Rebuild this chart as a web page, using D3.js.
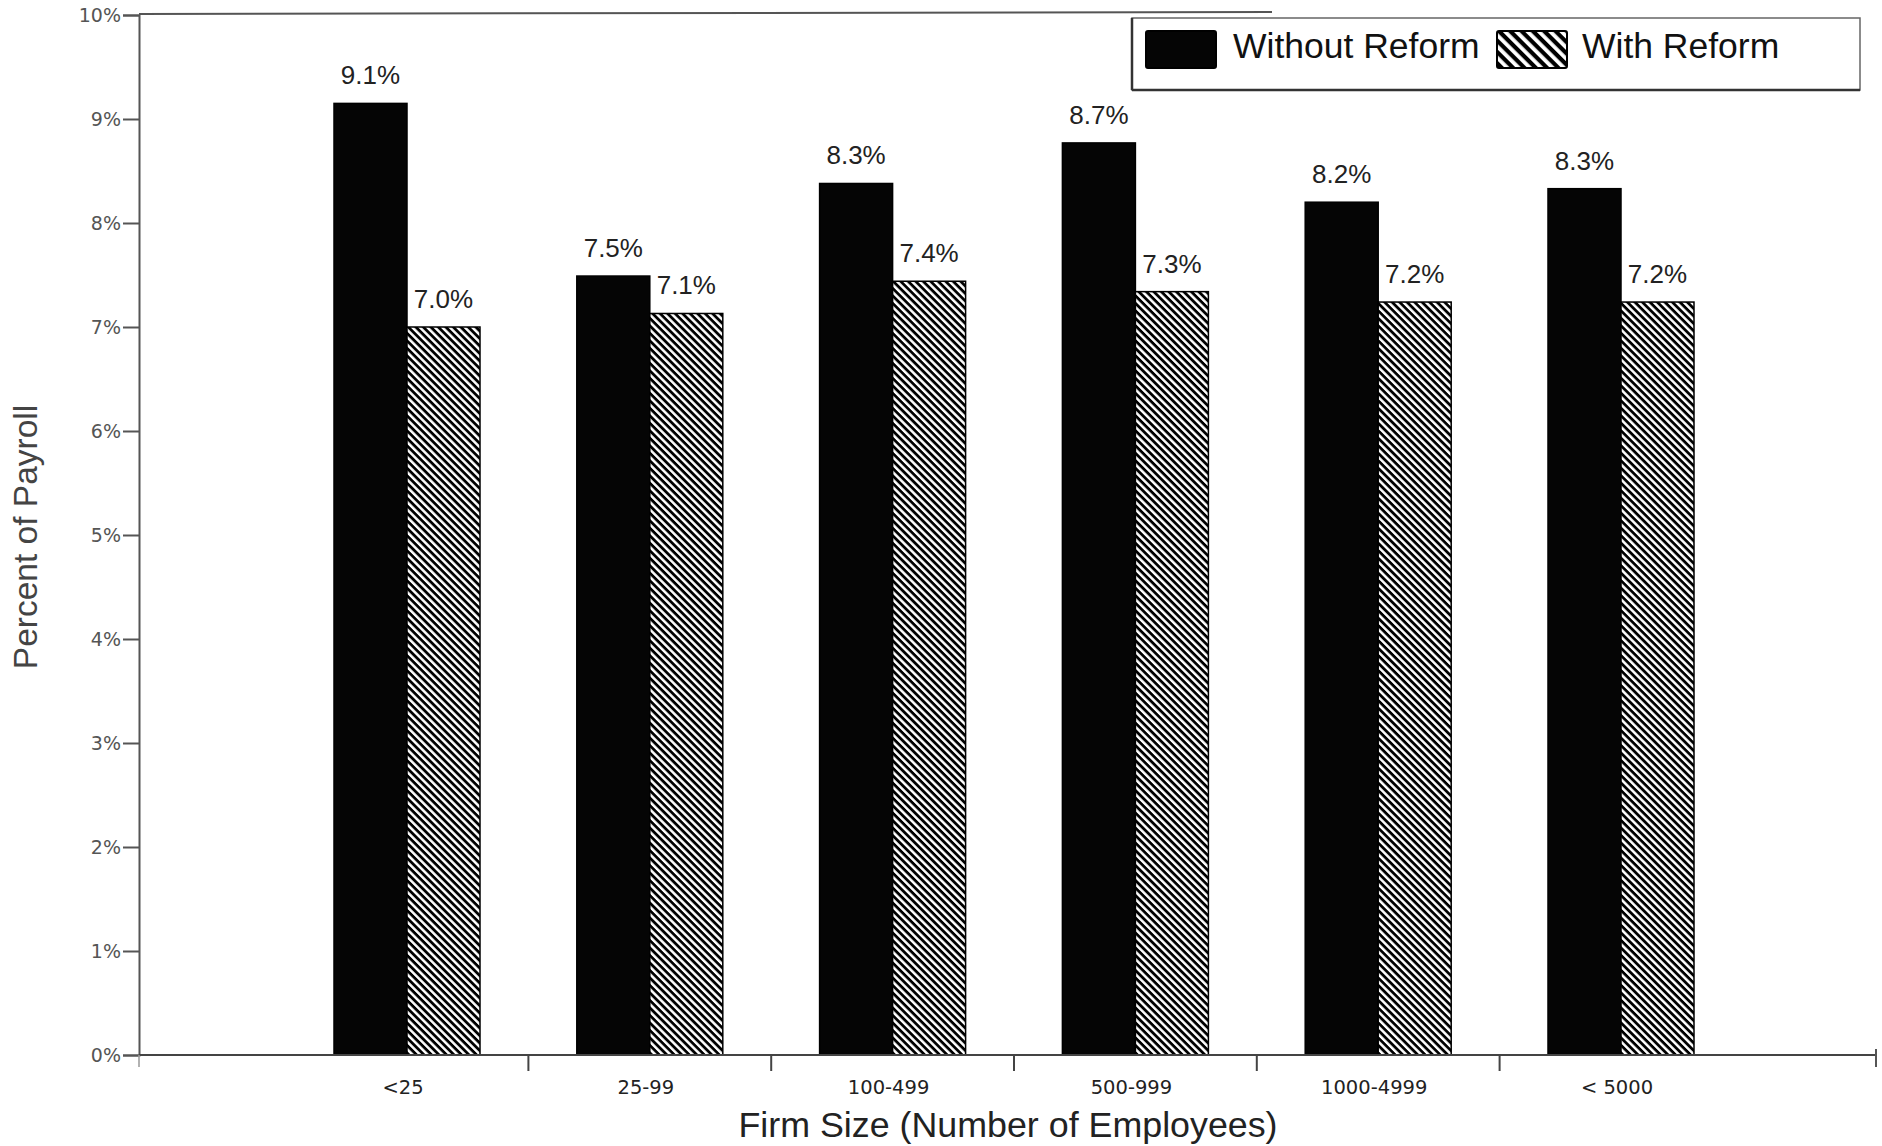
<!DOCTYPE html>
<html>
<head>
<meta charset="utf-8">
<script src="https://cdn.jsdelivr.net/npm/d3@7"></script>
<style>
  html, body { margin: 0; padding: 0; background: #fff; }
  svg { display: block; }
</style>
</head>
<body>
<svg id="chart" width="1882" height="1146"></svg>
<script>
// ---- Data ----
const categories = ["<25", "25-99", "100-499", "500-999", "1000-4999", "< 5000"];
const seriesNames = ["Without Reform", "With Reform"];
const withoutReform = [9.15, 7.49, 8.38, 8.77, 8.20, 8.33];
const withReform = [7.00, 7.13, 7.44, 7.34, 7.24, 7.24];
const withoutLabels = ["9.1%", "7.5%", "8.3%", "8.7%", "8.2%", "8.3%"];
const withLabels = ["7.0%", "7.1%", "7.4%", "7.3%", "7.2%", "7.2%"];
const yTicks = [0, 1, 2, 3, 4, 5, 6, 7, 8, 9, 10];
const yTickLabels = ["0%", "1%", "2%", "3%", "4%", "5%", "6%", "7%", "8%", "9%", "10%"];
const xTitle = "Firm Size (Number of Employees)";
const yTitle = "Percent of Payroll";

const rows = categories.map((c, i) => ({
  cat: c,
  vals: [
    { s: seriesNames[0], v: withoutReform[i], label: withoutLabels[i] },
    { s: seriesNames[1], v: withReform[i], label: withLabels[i] }
  ]
}));

// ---- Layout ----
const svg = d3.select("#chart");
const axisX = 139, baseY = 1055, topY = 15, rightX = 1876;

const y = d3.scaleLinear().domain([0, 10]).range([baseY, topY]);
const x = d3.scaleBand().domain(categories).range([285.6, 1742.4]).padding(0);
const bw = x.bandwidth();
const barW = 73;
const x1 = d3.scaleBand().domain(seriesNames).range([bw / 2 - barW, bw / 2 + barW]).padding(0);

// patterns
const defs = svg.append("defs");
const pat = defs.append("pattern")
  .attr("id", "hatch").attr("patternUnits", "userSpaceOnUse")
  .attr("width", 10).attr("height", 5.3)
  .attr("patternTransform", "rotate(45)");
pat.append("rect").attr("width", 10).attr("height", 5.3).attr("fill", "#fff");
pat.append("rect").attr("width", 10).attr("height", 2.8).attr("fill", "#000");

const pat2 = defs.append("pattern")
  .attr("id", "hatchLegend").attr("patternUnits", "userSpaceOnUse")
  .attr("width", 14).attr("height", 8)
  .attr("patternTransform", "rotate(45)");
pat2.append("rect").attr("width", 14).attr("height", 8).attr("fill", "#fff");
pat2.append("rect").attr("width", 14).attr("height", 4.2).attr("fill", "#000");

const color = d3.scaleOrdinal().domain(seriesNames).range(["#050505", "url(#hatch)"]);

// ---- Frame lines ----
svg.append("line").attr("x1", axisX).attr("x2", 1272).attr("y1", 14).attr("y2", 12)
  .attr("stroke", "#555").attr("stroke-width", 2);

// ---- Y axis ----
const yAxis = d3.axisLeft(y).tickValues(yTicks).tickSize(16).tickPadding(2)
  .tickFormat((d, i) => yTickLabels[i]);
const gy = svg.append("g").attr("transform", `translate(${axisX},0)`).call(yAxis);
gy.select(".domain").attr("stroke", "#555").attr("stroke-width", 2);
gy.selectAll(".tick line").attr("stroke", "#555").attr("stroke-width", 2);
gy.selectAll(".tick text")
  .attr("font-family", "'DejaVu Sans', sans-serif").attr("font-size", 19)
  .attr("fill", "#555");

// ---- Bars ----
const groups = svg.append("g").selectAll("g").data(rows).join("g")
  .attr("transform", d => `translate(${x(d.cat)},0)`);

groups.selectAll("rect").data(d => d.vals).join("rect")
  .attr("x", d => x1(d.s))
  .attr("y", d => y(d.v))
  .attr("width", x1.bandwidth())
  .attr("height", d => y(0) - y(d.v))
  .attr("fill", d => color(d.s))
  .attr("stroke", "#000")
  .attr("stroke-width", 1.5);

groups.selectAll("text.val").data(d => d.vals).join("text")
  .attr("class", "val")
  .attr("x", d => x1(d.s) + x1.bandwidth() / 2)
  .attr("y", d => y(d.v) - 19)
  .attr("text-anchor", "middle")
  .attr("font-family", "'Liberation Sans', Arial, sans-serif")
  .attr("font-size", 26)
  .attr("fill", "#222")
  .text(d => d.label);

// ---- X axis ----
svg.append("line").attr("x1", axisX).attr("x2", rightX).attr("y1", baseY).attr("y2", baseY)
  .attr("stroke", "#444").attr("stroke-width", 2);
const boundaries = categories.slice(0, -1).map(c => x(c) + bw);
svg.append("g").selectAll("line").data(boundaries).join("line")
  .attr("x1", d => d).attr("x2", d => d)
  .attr("y1", baseY).attr("y2", baseY + 16)
  .attr("stroke", "#444").attr("stroke-width", 2);
svg.append("line").attr("x1", rightX).attr("x2", rightX).attr("y1", baseY - 6).attr("y2", baseY + 12)
  .attr("stroke", "#555").attr("stroke-width", 2);
svg.append("line").attr("x1", axisX).attr("x2", axisX).attr("y1", baseY).attr("y2", baseY + 12)
  .attr("stroke", "#999").attr("stroke-width", 1.5);

const xAxis = d3.axisBottom(x).tickSize(0).tickPadding(0);
const gx = svg.append("g").attr("transform", `translate(-4,${baseY})`).call(xAxis);
gx.select(".domain").remove();
gx.selectAll(".tick text")
  .attr("y", 39).attr("dy", 0)
  .attr("font-family", "'DejaVu Sans', sans-serif").attr("font-size", 19.5)
  .attr("fill", "#222");

// ---- Titles ----
svg.append("text")
  .attr("x", 1008).attr("y", 1137)
  .attr("text-anchor", "middle")
  .attr("font-family", "'Liberation Sans', Arial, sans-serif")
  .attr("font-size", 35.8)
  .attr("fill", "#222")
  .text(xTitle);

svg.append("text")
  .attr("transform", "translate(37,537) rotate(-90)")
  .attr("text-anchor", "middle")
  .attr("font-family", "'Liberation Sans', Arial, sans-serif")
  .attr("font-size", 33.5)
  .attr("fill", "#444")
  .text(yTitle);

// ---- Legend ----
const lg = svg.append("g");
lg.append("rect").attr("x", 1132).attr("y", 18).attr("width", 728).attr("height", 72)
  .attr("fill", "#fff").attr("stroke", "#666").attr("stroke-width", 1.5);
lg.append("line").attr("x1", 1132).attr("x2", 1860).attr("y1", 90).attr("y2", 90)
  .attr("stroke", "#333").attr("stroke-width", 2.5);
lg.append("line").attr("x1", 1132).attr("x2", 1132).attr("y1", 18).attr("y2", 90)
  .attr("stroke", "#333").attr("stroke-width", 2.5);

const legendItems = [
  { s: seriesNames[0], rx: 1146, tx: 1233, fill: "#050505" },
  { s: seriesNames[1], rx: 1497, tx: 1582, fill: "url(#hatchLegend)" }
];
legendItems.forEach(it => {
  lg.append("rect").attr("x", it.rx).attr("y", 31).attr("width", 70).attr("height", 37)
    .attr("rx", 2).attr("fill", it.fill).attr("stroke", "#000").attr("stroke-width", 2);
  lg.append("text").attr("x", it.tx).attr("y", 58)
    .attr("font-family", "'Liberation Sans', Arial, sans-serif")
    .attr("font-size", 35.5).attr("fill", "#111")
    .text(it.s);
});
</script>
</body>
</html>
